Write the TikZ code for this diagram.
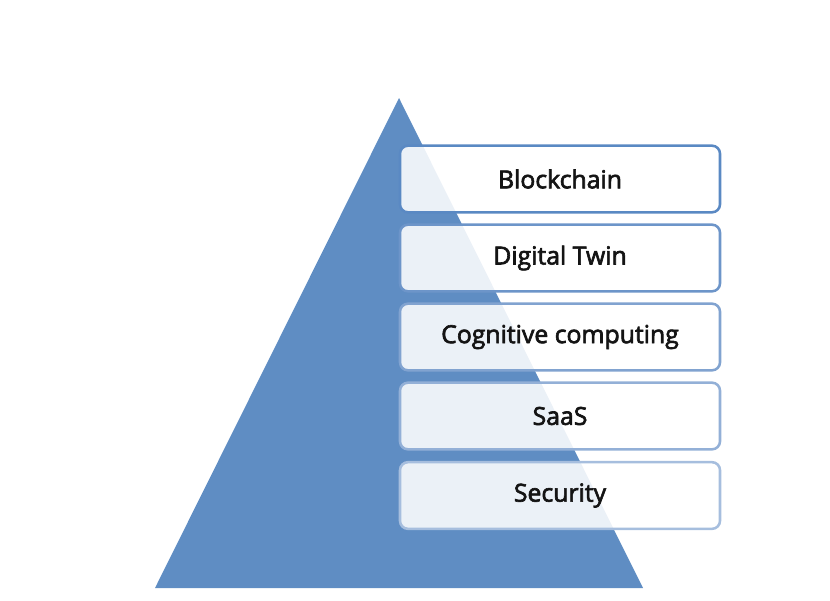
\documentclass[tikz,border=0pt]{standalone}
\usepackage{fontspec}
\setmainfont{Open Sans}[FakeBold=2.6]
\definecolor{tri}{HTML}{5F8DC3}
\definecolor{bA}{HTML}{5A89C3}
\definecolor{bB}{HTML}{6D95C9}
\definecolor{bC}{HTML}{81A3D0}
\definecolor{bD}{HTML}{93B0D7}
\definecolor{bE}{HTML}{A6BEDE}
\begin{document}
\begin{tikzpicture}[x=0.75pt,y=-0.75pt,
  layer/.style={draw=#1, line width=1.9pt, rounded corners=6pt, fill=white, fill opacity=0.88, text opacity=1,
    minimum width=240pt, minimum height=50pt, inner sep=0pt, font=\fontsize{18.6}{20}\selectfont, text=black!92}]
\useasboundingbox (0,0) rectangle (830,600);
\fill[tri] (399,98) coordinate (apex) -- (643,588) coordinate (br) -- (155,588) coordinate (bl) -- cycle;
\node[layer=bA] (n1) at (560,179) {Blockchain};
\node[layer=bB] (n2) at (560,258) {Digital Twin};
\node[layer=bC] (n3) at (560,337) {Cognitive computing};
\node[layer=bD] (n4) at (560,416) {SaaS};
\node[layer=bE] (n5) at (560,495.5) {Security};
\end{tikzpicture}
\end{document}
